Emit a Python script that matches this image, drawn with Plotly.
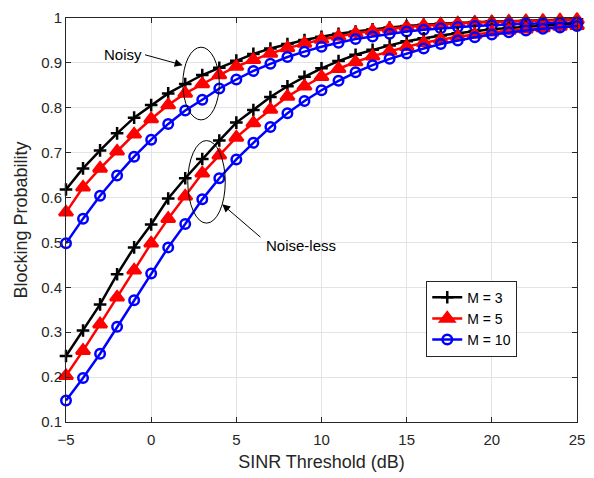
import plotly.graph_objects as go

x_db = list(range(-5, 26))

noisy_m3 = [0.618, 0.665, 0.705, 0.743, 0.778, 0.806, 0.832, 0.853, 0.873, 0.889, 0.905,
            0.920, 0.932, 0.942, 0.951, 0.958, 0.965, 0.970, 0.975, 0.979, 0.982,
            0.985, 0.987, 0.989, 0.991, 0.992, 0.993, 0.994, 0.995, 0.996, 0.997]
noisy_m5 = [0.567, 0.623, 0.665, 0.703, 0.741, 0.775, 0.806, 0.832, 0.853, 0.873, 0.892,
            0.907, 0.921, 0.933, 0.943, 0.952, 0.959, 0.966, 0.971, 0.976, 0.980,
            0.983, 0.986, 0.988, 0.990, 0.991, 0.992, 0.993, 0.994, 0.995, 0.996]
noisy_m10 = [0.498, 0.553, 0.604, 0.649, 0.691, 0.729, 0.764, 0.794, 0.818, 0.843, 0.863,
             0.882, 0.898, 0.913, 0.925, 0.936, 0.945, 0.953, 0.959, 0.965, 0.970,
             0.974, 0.977, 0.980, 0.982, 0.984, 0.986, 0.987, 0.988, 0.989, 0.990]
noiseless_m3 = [0.247, 0.304, 0.362, 0.429, 0.489, 0.540, 0.598, 0.643, 0.686, 0.727, 0.767,
                0.795, 0.824, 0.848, 0.869, 0.888, 0.904, 0.918, 0.929, 0.939, 0.948,
                0.955, 0.961, 0.966, 0.971, 0.975, 0.978, 0.981, 0.983, 0.985, 0.987]
noiseless_m5 = [0.203, 0.259, 0.318, 0.378, 0.438, 0.498, 0.553, 0.603, 0.654, 0.694, 0.734,
                0.766, 0.796, 0.825, 0.848, 0.869, 0.887, 0.902, 0.915, 0.926, 0.936,
                0.945, 0.952, 0.958, 0.963, 0.968, 0.972, 0.975, 0.978, 0.981, 0.983]
noiseless_m10 = [0.148, 0.198, 0.252, 0.312, 0.371, 0.431, 0.489, 0.541, 0.596, 0.643, 0.685,
                 0.722, 0.757, 0.788, 0.815, 0.839, 0.860, 0.879, 0.895, 0.909, 0.921,
                 0.932, 0.942, 0.950, 0.957, 0.963, 0.968, 0.972, 0.976, 0.979, 0.982]

series_names = ["M = 3", "M = 5", "M = 10"]
colors = ["#000000", "#ff0000", "#0000ff"]
symbols = ["cross-thin", "triangle-up", "circle-open"]
msizes = [9, 12, 9.5]

FONT = "Liberation Sans, Arial, sans-serif"

fig = go.Figure()
for group, show in [((noisy_m3, noisy_m5, noisy_m10), False),
                    ((noiseless_m3, noiseless_m5, noiseless_m10), True)]:
    for ys, name, c, s, ms in zip(group, series_names, colors, symbols, msizes):
        fig.add_trace(go.Scatter(
            x=x_db, y=ys, mode="lines+markers", name=name, showlegend=show,
            line=dict(color=c, width=2.5),
            marker=dict(symbol=s, size=ms, color=c, line=dict(color=c, width=2.5)),
            cliponaxis=False,
        ))

axis_common = dict(
    showline=True, linecolor="#262626", linewidth=1, mirror="ticks",
    ticks="inside", ticklen=5, tickcolor="#262626",
    showgrid=True, gridcolor="#e3e3e3", gridwidth=1, zeroline=False,
    tickfont=dict(family=FONT, size=15, color="#262626"),
)
fig.update_xaxes(range=[-5, 25], tickmode="array", tickvals=[-5, 0, 5, 10, 15, 20, 25],
                 ticklabelstandoff=4,
                 title=dict(text="SINR Threshold (dB)", standoff=8,
                            font=dict(family=FONT, size=18, color="#262626")),
                 **axis_common)
fig.update_yaxes(range=[0.1, 1], tickmode="array",
                 tickvals=[0.1, 0.2, 0.3, 0.4, 0.5, 0.6, 0.7, 0.8, 0.9, 1.0],
                 ticktext=["0.1", "0.2", "0.3", "0.4", "0.5", "0.6", "0.7", "0.8", "0.9", "1"],
                 title=dict(text="Blocking Probability", standoff=8,
                            font=dict(family=FONT, size=18, color="#262626")),
                 **axis_common)

# ellipses
fig.add_shape(type="circle", xref="x", yref="y", x0=1.86, x1=4.0, y0=0.773, y1=0.935,
              line=dict(color="black", width=1))
fig.add_shape(type="circle", xref="x", yref="y", x0=2.15, x1=4.35, y0=0.543, y1=0.727,
              line=dict(color="black", width=1))

# arrows
fig.add_annotation(x=1.85, y=0.895, ax=-0.45, ay=0.919, xref="x", yref="y", axref="x", ayref="y",
                   showarrow=True, arrowhead=2, arrowsize=1.6, arrowwidth=1, arrowcolor="black", text="")
fig.add_annotation(x=4.17, y=0.585, ax=6.5, ay=0.509, xref="x", yref="y", axref="x", ayref="y",
                   showarrow=True, arrowhead=2, arrowsize=1.6, arrowwidth=1, arrowcolor="black", text="")
fig.add_annotation(x=-0.45, y=0.919, xref="x", yref="y", text="Noisy", showarrow=False,
                   xanchor="right", font=dict(family=FONT, size=15, color="black"))
fig.add_annotation(x=6.6, y=0.494, xref="x", yref="y", text="Noise-less", showarrow=False,
                   xanchor="left", font=dict(family=FONT, size=15, color="black"))

fig.update_layout(
    width=594, height=478,
    margin=dict(l=66, r=9, t=10, b=56),
    paper_bgcolor="white", plot_bgcolor="white",
    legend=dict(x=0.705, y=0.35, xanchor="left", yanchor="top",
                bgcolor="white", bordercolor="#262626", borderwidth=1,
                font=dict(family=FONT, size=14, color="black"),
                tracegroupgap=0, itemwidth=30),
    hovermode=False,
)

fig.write_html("out.html")
